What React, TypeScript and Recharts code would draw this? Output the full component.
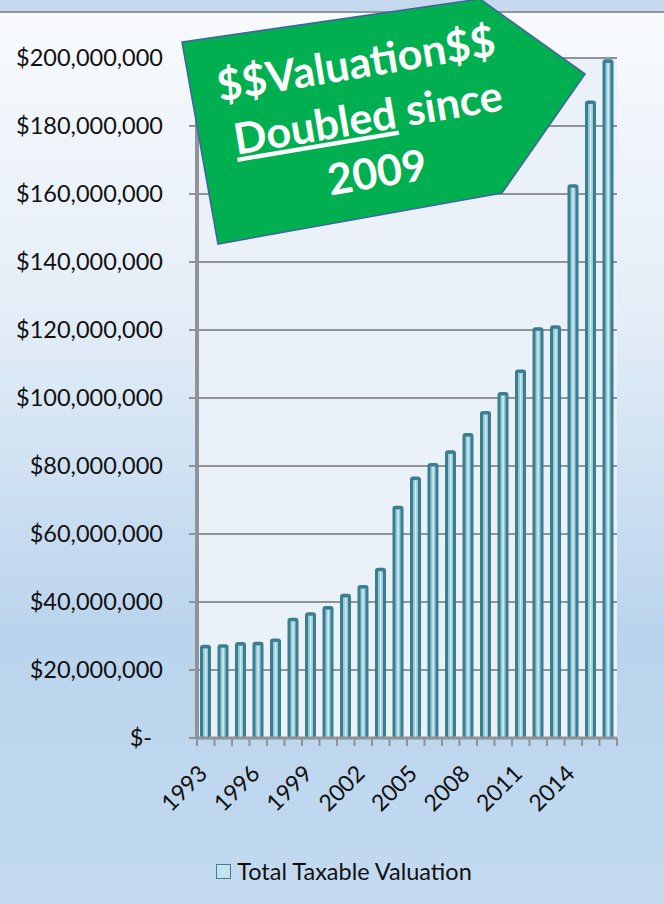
import React from "react";
import { BarChart, Bar, XAxis, YAxis, CartesianGrid, Legend } from "recharts";

const years = [
  "1993", "1994", "1995", "1996", "1997", "1998", "1999", "2000",
  "2001", "2002", "2003", "2004", "2005", "2006", "2007", "2008",
  "2009", "2010", "2011", "2012", "2013", "2014", "2015", "2016",
];

const valuation = [
  27400000, 27600000, 28200000, 28300000, 29300000, 35400000, 37000000, 38800000,
  42400000, 45000000, 50100000, 68300000, 76900000, 80900000, 84600000, 89700000,
  96200000, 101800000, 108400000, 120800000, 121400000, 162900000, 187500000, 199600000,
];

const yTicks = [
  0, 20000000, 40000000, 60000000, 80000000, 100000000,
  120000000, 140000000, 160000000, 180000000, 200000000,
];

const data = years.map((year, i) => ({ year, value: valuation[i] }));

const WIDTH = 664;
const HEIGHT = 904;
const margin = { top: 58, right: 47, left: 0, bottom: 48 };
const Y_AXIS_W = 197;
const X_AXIS_H = 88;
const band = (WIDTH - margin.left - margin.right - Y_AXIS_W) / years.length;

const FONT = "Lato, 'Open Sans', sans-serif";
const GRAY = "#8f9296";

const formatMoney = (v: number) =>
  v === 0 ? "$-" : "$" + v.toLocaleString("en-US");

const YTick = (props: any) => {
  const { x, y, payload } = props;
  const shift = payload.value === 0 ? 11 : 0;
  return (
    <text
      x={x - shift}
      y={y}
      dy="0.36em"
      textAnchor="end"
      fontSize={23.5}
      fontFamily={FONT}
      fill="#111"
    >
      {formatMoney(payload.value)}
    </text>
  );
};

const XTick = (props: any) => {
  const { x, y, payload, index } = props;
  const tx = x + 3;
  const ty = y + 37;
  return (
    <g>
      <line x1={x - band / 2} x2={x - band / 2} y1={y} y2={y + 8} stroke={GRAY} strokeWidth={2} />
      {index === years.length - 1 && (
        <line x1={x + band / 2} x2={x + band / 2} y1={y} y2={y + 8} stroke={GRAY} strokeWidth={2} />
      )}
      {index % 3 === 0 && (
        <text
          x={tx}
          y={ty}
          textAnchor="end"
          fontSize={23}
          fontFamily={FONT}
          fill="#111"
          transform={`rotate(-45, ${tx}, ${ty})`}
        >
          {payload.value}
        </text>
      )}
    </g>
  );
};

// cylinder-ish bar: dark rim, light core, thin highlight
const TubeBar = (props: any) => {
  const { x, y, width, height } = props;
  if (!height || height <= 0) return null;
  return (
    <g>
      <rect x={x} y={y} width={width} height={height} rx={3} fill="#3a7e90" />
      <rect x={x + 3} y={y + 3.5} width={width - 6} height={height - 3.5} fill="#98cbd9" />
      <rect x={x + width * 0.45} y={y + 4} width={1.4} height={height - 4} fill="#d4ecf3" />
    </g>
  );
};

const LegendContent = () => (
  <div
    style={{
      height: 30,
      display: "flex",
      alignItems: "center",
      justifyContent: "center",
      paddingLeft: 24,
      boxSizing: "border-box",
      fontFamily: FONT,
      fontSize: 23.5,
      color: "#111",
    }}
  >
    <span
      style={{
        width: 13,
        height: 13,
        border: "1.5px solid #3d8193",
        background: "#c4e3ec",
        marginRight: 6,
      }}
    />
    Total Taxable Valuation
  </div>
);

const Callout = () => (
  <svg
    width={WIDTH}
    height={HEIGHT}
    style={{ position: "absolute", left: 0, top: 0, pointerEvents: "none" }}
  >
    <polygon
      points="182,42 480,-1 585,74 502,193 218,244"
      fill="#00b050"
      stroke="#41659f"
      strokeWidth={1.6}
    />
    <g
      fontFamily={FONT}
      fontWeight={700}
      fontSize={43}
      fill="#fff"
      textAnchor="middle"
    >
      <text x={356} y={63} dy="0.36em" transform="rotate(-9.5, 356, 63)">$$Valuation$$</text>
      <text x={368} y={117} dy="0.36em" transform="rotate(-9.5, 368, 117)">
        <tspan style={{ textDecoration: "underline" }}>Doubled</tspan> since
      </text>
      <text x={377} y={172} dy="0.36em" transform="rotate(-9.5, 377, 172)">2009</text>
    </g>
  </svg>
);

export default function App() {
  return (
    <div
      style={{
        position: "absolute",
        left: 0,
        top: 0,
        width: WIDTH,
        height: HEIGHT,
        background:
          "linear-gradient(to bottom, #c5daef 0px, #c5daef 11px, #8f979f 11px, #8f979f 13px, #f8fafd 13px, #e4edf7 35%, #bad4ed 70%, #c3daf0 100%)",
      }}
    >
      <BarChart width={WIDTH} height={HEIGHT} data={data} margin={margin} barSize={11}>
        <CartesianGrid
          vertical={false}
          stroke={GRAY}
          strokeWidth={2}
          fill="#ebf1f8"
          fillOpacity={1}
        />
        <YAxis
          width={Y_AXIS_W}
          domain={[0, 200000000]}
          ticks={yTicks}
          interval={0}
          axisLine={{ stroke: GRAY, strokeWidth: 4 }}
          tickLine={{ stroke: GRAY, strokeWidth: 2 }}
          tickSize={8}
          tickMargin={26}
          tick={<YTick />}
        />
        <XAxis
          dataKey="year"
          height={X_AXIS_H}
          interval={0}
          axisLine={{ stroke: GRAY, strokeWidth: 3 }}
          tickLine={false}
          tickSize={0}
          tickMargin={0}
          tick={<XTick />}
        />
        <Legend
          verticalAlign="bottom"
          content={<LegendContent />}
          wrapperStyle={{ bottom: 18, left: 0, width: WIDTH }}
        />
        <Bar
          dataKey="value"
          name="Total Taxable Valuation"
          shape={<TubeBar />}
          isAnimationActive={false}
        />
      </BarChart>
      <Callout />
    </div>
  );
}
